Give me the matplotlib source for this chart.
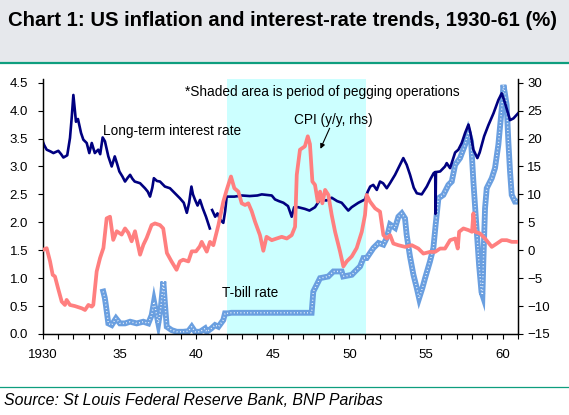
import numpy as np
import matplotlib
matplotlib.use("Agg")
import matplotlib.pyplot as plt
from matplotlib.patches import Rectangle
from matplotlib.lines import Line2D

plt.rcParams["font.family"] = ["Liberation Sans", "DejaVu Sans"]

# long-term interest rate (%, lhs)
lt_years = [1930.0, 1930.1, 1930.26, 1930.5, 1930.7, 1931.02, 1931.2, 1931.35, 1931.6, 1931.78,
            1931.9, 1932.0, 1932.1, 1932.17, 1932.3, 1932.39, 1932.5, 1932.65, 1932.87, 1933.04,
            1933.2, 1933.4, 1933.62, 1933.75, 1933.91, 1934.06, 1934.28, 1934.5, 1934.7, 1934.85,
            1935.0, 1935.2, 1935.37, 1935.55, 1935.7, 1935.85, 1936.0, 1936.35, 1936.67, 1936.85,
            1937.0, 1937.15, 1937.25, 1937.45, 1937.65, 1937.97, 1938.3, 1938.63, 1938.95, 1939.2,
            1939.4, 1939.55, 1939.7, 1939.8, 1939.94, 1940.1, 1940.26, 1940.44, 1940.65, 1940.9,
            1940.97, 1941.05, 1941.25, 1941.4, 1941.57, 1941.78, 1941.9, 1942.0, 1942.5, 1943.0,
            1943.5, 1944.0, 1944.29, 1944.94, 1945.15, 1945.4, 1945.7, 1946.0, 1946.24, 1946.4,
            1946.67, 1947.1, 1947.4, 1947.76, 1948.09, 1948.5, 1948.85, 1949.2, 1949.5, 1949.93,
            1950.15, 1950.59, 1951.02, 1951.2, 1951.36, 1951.56, 1951.79, 1952.0, 1952.2, 1952.44,
            1952.65, 1952.98, 1953.3, 1953.52, 1953.74, 1953.96, 1954.2, 1954.4, 1954.72, 1955.05,
            1955.3, 1955.5, 1955.6, 1955.62, 1955.65, 1955.92, 1956.24, 1956.35, 1956.57, 1956.9,
            1957.11, 1957.33, 1957.55, 1957.77, 1957.9, 1958.09, 1958.35, 1958.5, 1958.79, 1959.07,
            1959.4, 1959.72, 1959.94, 1960.16, 1960.48, 1960.7, 1961.0]
lt_rate = [3.45, 3.38, 3.30, 3.27, 3.24, 3.28, 3.22, 3.16, 3.20, 3.51,
           3.90, 4.28, 4.00, 3.80, 3.85, 3.74, 3.60, 3.48, 3.42, 3.24,
           3.42, 3.24, 3.30, 3.22, 3.52, 3.45, 3.18, 3.00, 3.18, 3.05,
           2.91, 2.82, 2.73, 2.80, 2.85, 2.78, 2.73, 2.70, 2.61, 2.55,
           2.46, 2.62, 2.79, 2.74, 2.73, 2.64, 2.61, 2.52, 2.43, 2.35,
           2.17, 2.35, 2.64, 2.50, 2.40, 2.30, 2.40, 2.25, 2.10, 1.89,
           np.nan, 2.22, 2.10, 2.16, 2.05, 1.99, 2.20, 2.46, 2.46, 2.48,
           2.47, 2.48, 2.50, 2.48, 2.41, 2.38, 2.35, 2.29, 2.10, 2.27,
           2.27, 2.24, 2.21, 2.27, 2.41, 2.39, 2.44, 2.38, 2.35, 2.21,
           2.27, 2.35, 2.41, 2.55, 2.64, 2.67, 2.58, 2.73, 2.70, 2.61,
           2.70, 2.85, 3.03, 3.15, 3.03, 2.85, 2.62, 2.52, 2.50, 2.64,
           2.78, 2.88, 2.90, 2.15, 2.90, 2.91, 3.00, 3.06, 2.97, 3.25,
           3.30, 3.42, 3.60, 3.75, 3.60, 3.30, 3.15, 3.25, 3.54, 3.74,
           3.95, 4.19, 4.31, 4.13, 3.83, 3.86, 3.95]

# CPI y/y (%, rhs)
cpi_years = [1930.0, 1930.26, 1930.48, 1930.65, 1930.8, 1931.0, 1931.24, 1931.45, 1931.56, 1931.78,
             1932.1, 1932.55, 1932.76, 1932.98, 1933.2, 1933.3, 1933.52, 1933.74, 1933.96, 1934.17,
             1934.39, 1934.6, 1934.83, 1935.15, 1935.37, 1935.59, 1935.8, 1936.02, 1936.35, 1936.57,
             1936.78, 1937.1, 1937.32, 1937.65, 1937.86, 1938.1, 1938.4, 1938.73, 1938.95, 1939.16,
             1939.5, 1939.72, 1940.0, 1940.25, 1940.37, 1940.7, 1940.91, 1941.13, 1941.46, 1941.78,
             1942.0, 1942.28, 1942.5, 1942.76, 1942.98, 1943.2, 1943.41, 1943.63, 1943.85, 1944.17,
             1944.39, 1944.6, 1944.94, 1945.26, 1945.59, 1945.92, 1946.24, 1946.46, 1946.57, 1946.78,
             1947.1, 1947.29, 1947.43, 1947.59, 1947.76, 1947.94, 1948.09, 1948.24, 1948.42, 1948.63,
             1948.85, 1949.07, 1949.39, 1949.61, 1949.83, 1950.16, 1950.48, 1950.81, 1951.02, 1951.13,
             1951.35, 1951.68, 1952.0, 1952.22, 1952.44, 1952.66, 1952.87, 1953.2, 1953.64, 1954.07,
             1954.5, 1954.83, 1955.26, 1955.59, 1955.92, 1956.24, 1956.57, 1956.9, 1957.07, 1957.16,
             1957.44, 1957.77, 1958.0, 1958.09, 1958.2, 1958.52, 1958.85, 1959.29, 1959.62, 1959.94,
             1960.27, 1960.59, 1961.0]
cpi_yoy = [0.05, 0.36, -2.0, -4.4, -4.7, -6.8, -9.2, -9.8, -8.9, -9.8,
           -10.0, -10.4, -10.7, -9.8, -10.1, -9.8, -3.8, -1.4, 0.4, 5.7,
           6.0, 1.85, 3.4, 2.8, 3.9, 3.1, 1.6, 3.4, -0.8, 1.0,
           2.2, 4.5, 4.8, 4.5, 3.9, -0.5, -2.0, -3.5, -2.0, -1.7,
           -2.0, -0.2, -0.2, 0.7, 1.5, -0.25, 1.5, 0.9, 4.5, 8.7,
           10.8, 13.2, 11.1, 10.5, 8.4, 8.1, 8.4, 7.0, 5.1, 2.7,
           -0.1, 2.4, 1.8, 2.1, 2.4, 2.1, 2.7, 4.2, 13.5, 18.0,
           18.6, 20.4, 19.0, 12.3, 11.7, 8.7, 10.5, 8.4, 10.8, 9.9,
           6.3, 3.3, -0.2, -2.9, -2.0, -1.1, 0.4, 3.3, 6.3, 9.9,
           8.7, 7.5, 6.9, 2.7, 2.1, 2.7, 1.2, 0.9, 0.6, 0.9,
           0.3, -0.6, -0.3, -0.3, 0.3, 0.3, 1.8, 2.1, 0.3, 3.3,
           3.9, 3.6, 3.3, 6.6, 3.3, 3.0, 2.1, 0.6, 1.2, 1.8,
           1.8, 1.5, 1.5]

# T-bill rate (%, lhs)
tb_years = [1933.95, 1934.05, 1934.12, 1934.28, 1934.5, 1934.78, 1935.04, 1935.37, 1935.7, 1936.13,
            1936.56, 1936.89, 1937.11, 1937.26, 1937.39, 1937.54, 1937.7, 1937.87, 1937.98, 1938.09,
            1938.41, 1938.74, 1939.17, 1939.5, 1939.72, 1939.94, 1940.26, 1940.59, 1940.7, 1941.0,
            1941.24, 1941.46, 1941.78, 1941.89, 1942.1, 1942.3, 1947.54, 1947.65, 1947.76, 1948.09,
            1948.63, 1948.96, 1949.5, 1949.6, 1950.16, 1950.37, 1950.7, 1950.92, 1951.13, 1951.57,
            1951.9, 1952.22, 1952.44, 1952.66, 1952.98, 1953.2, 1953.42, 1953.63, 1953.74, 1953.96,
            1954.18, 1954.4, 1954.55, 1954.76, 1954.94, 1955.26, 1955.48, 1955.63, 1955.81, 1956.13,
            1956.46, 1956.68, 1956.9, 1957.22, 1957.55, 1957.76, 1957.94, 1958.09, 1958.31, 1958.46,
            1958.62, 1958.68, 1958.74, 1958.85, 1958.96, 1959.29, 1959.5, 1959.72, 1959.94, 1960.05,
            1960.15, 1960.26, 1960.37, 1960.48, 1960.59, 1960.8, 1961.0]
tb_rate = [0.76, 0.65, 0.52, 0.19, 0.16, 0.28, 0.19, 0.19, 0.22, 0.19,
           0.22, 0.19, 0.34, 0.58, 0.40, 0.19, 0.46, 0.94, 0.52, 0.13,
           0.07, 0.04, 0.04, 0.05, 0.13, 0.04, 0.04, 0.10, 0.04, 0.10,
           0.16, 0.13, 0.25, 0.37, 0.37, 0.38, 0.38, 0.76, 0.82, 1.00,
           1.03, 1.12, 1.12, 1.03, 1.06, 1.12, 1.21, 1.36, 1.36, 1.54,
           1.63, 1.60, 1.72, 1.96, 1.90, 2.10, 2.16, 2.07, 1.77, 1.38,
           1.06, 0.82, 0.64, 0.82, 1.00, 1.30, 1.54, 1.96, 2.43, 2.49,
           2.67, 2.73, 3.03, 3.15, 3.39, 3.62, 3.45, 2.73, 1.84, 1.24,
           0.75, 0.70, 1.30, 2.25, 2.61, 2.79, 2.97, 3.39, 4.04, 4.46,
           4.30, 4.10, 3.45, 2.91, 2.49, 2.37, 2.37]

peg_start, peg_end = 1942.0, 1951.1

W, H = 569, 415
fig = plt.figure(figsize=(W / 100, H / 100), dpi=100)
fig.patch.set_facecolor("white")

# header band and rules
fig.patches.append(Rectangle((0, 1 - 62 / H), 1, 62 / H, transform=fig.transFigure,
                             facecolor="#E6E8EC", edgecolor="none", zorder=0))
fig.lines.append(Line2D([0, 1], [1 - 63 / H, 1 - 63 / H], transform=fig.transFigure,
                        color="#0E9E7E", lw=1.6))
fig.lines.append(Line2D([0, 1], [1 - 387 / H, 1 - 387 / H], transform=fig.transFigure,
                        color="#0E9E7E", lw=0.9))
fig.text(8 / W, 1 - 20 / H, "Chart 1: US inflation and interest-rate trends, 1930-61 (%)",
         fontsize=14.6, fontweight="bold", va="center", ha="left")
fig.text(4 / W, 1 - 400 / H, "Source: St Louis Federal Reserve Bank, BNP Paribas",
         fontsize=11.4, style="italic", va="center", ha="left")

left, right, bottom, top = 42.7, 518, 334, 79
ax = fig.add_axes([left / W, 1 - bottom / H, (right - left) / W, (bottom - top) / H])
ax2 = ax.twinx()

ax.axvspan(peg_start, peg_end, color="#CCFFFF", lw=0, zorder=0)
ax.plot(tb_years, tb_rate, color="#6A9FE0", lw=4.2, solid_joinstyle="miter", zorder=2)
ax.plot(tb_years, tb_rate, color="white", lw=1.0, ls=(0, (0.6, 1.8)), zorder=3)
ax.plot(lt_years, lt_rate, color="#000080", lw=1.9, zorder=4)
ax2.plot(cpi_years, cpi_yoy, color="#FF7F7F", lw=2.7, zorder=5)

ax.set_xlim(1930, 1961)
ax.set_ylim(0, 4.566)
ax2.set_ylim(-15, 30.66)
ax.set_yticks(np.arange(0, 4.51, 0.5))
ax.set_yticklabels([f"{v:.1f}" for v in np.arange(0, 4.51, 0.5)])
ax2.set_yticks(np.arange(-15, 31, 5))

years = list(range(1930, 1962))
ax.set_xticks(years)
ax.set_xticklabels(["1930" if y == 1930 else (f"{y % 100:02d}" if y % 5 == 0 else "")
                    for y in years])

for a in (ax, ax2):
    a.spines["top"].set_visible(False)
    a.patch.set_visible(False)
    for s in ("left", "right", "bottom"):
        a.spines[s].set_linewidth(0.9)
ax.tick_params(axis="x", direction="out", length=3.5, width=0.8, pad=7, labelsize=9.5)
ax.tick_params(axis="y", direction="out", length=3.5, width=0.8, pad=7, labelsize=9.5)
ax2.tick_params(axis="y", direction="out", length=3.5, width=0.8, pad=3, labelsize=9.5)

ax.text(1939.3, 4.34, "*Shaded area is period of pegging operations", fontsize=9.8,
        va="center", ha="left")
ax.text(1933.93, 3.64, "Long-term interest rate", fontsize=9.8, va="center", ha="left")
ax.text(1946.4, 3.84, "CPI (y/y, rhs)", fontsize=9.8, va="center", ha="left")
ax.text(1941.68, 0.74, "T-bill rate", fontsize=9.8, va="center", ha="left")
ax.annotate("", xy=(1948.04, 3.27), xytext=(1948.79, 3.73),
            arrowprops=dict(arrowstyle="-|>", color="black", lw=0.8, mutation_scale=7))

fig.savefig("out.png", dpi=100)
